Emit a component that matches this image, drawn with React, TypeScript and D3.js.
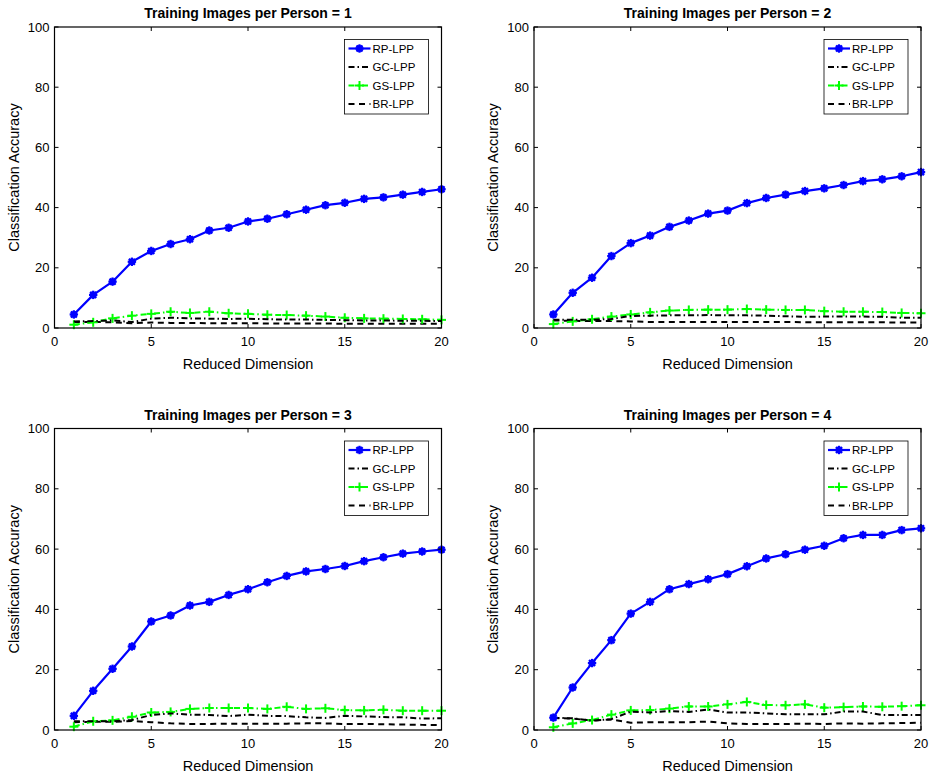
import React from 'react';
import * as d3 from 'd3';

// reduced dimension 1..20
const dims = [1, 2, 3, 4, 5, 6, 7, 8, 9, 10, 11, 12, 13, 14, 15, 16, 17, 18, 19, 20];
const xTicks = [0, 5, 10, 15, 20];
const yTicks = [0, 20, 40, 60, 80, 100];
const titles = [
  'Training Images per Person = 1',
  'Training Images per Person = 2',
  'Training Images per Person = 3',
  'Training Images per Person = 4',
];
const seriesNames = ['RP-LPP', 'GC-LPP', 'GS-LPP', 'BR-LPP'];

const rp1 = [4.5, 11.0, 15.4, 22.0, 25.6, 27.9, 29.5, 32.4, 33.3, 35.4, 36.3, 37.8, 39.3, 40.8, 41.6, 42.9, 43.4, 44.3, 45.2, 46.1];
const gc1 = [2.2, 2.3, 2.5, 2.0, 3.1, 3.4, 3.2, 3.1, 3.0, 3.1, 2.9, 2.8, 2.8, 2.7, 2.6, 2.5, 2.5, 2.4, 2.4, 2.3];
const gs1 = [1.1, 1.9, 3.2, 4.1, 4.7, 5.4, 5.0, 5.4, 4.9, 4.7, 4.4, 4.3, 4.1, 3.8, 3.4, 3.2, 3.1, 3.0, 2.9, 2.7];
const br1 = [2.0, 2.0, 1.9, 1.6, 1.8, 1.7, 1.7, 1.6, 1.6, 1.6, 1.5, 1.5, 1.5, 1.5, 1.4, 1.4, 1.4, 1.4, 1.4, 1.4];

const rp2 = [4.5, 11.7, 16.7, 23.9, 28.2, 30.7, 33.6, 35.7, 38.0, 39.0, 41.5, 43.2, 44.3, 45.5, 46.4, 47.5, 48.8, 49.4, 50.4, 51.8];
const gc2 = [2.7, 2.7, 2.7, 3.0, 4.0, 4.1, 4.2, 4.2, 4.3, 4.2, 4.2, 4.1, 3.9, 3.7, 3.8, 3.8, 3.8, 3.7, 3.4, 3.4];
const gs2 = [1.3, 2.2, 2.9, 3.8, 4.5, 5.2, 5.8, 6.0, 6.1, 6.1, 6.3, 6.1, 6.0, 6.0, 5.6, 5.4, 5.4, 5.3, 5.0, 4.9];
const br2 = [2.5, 2.4, 2.3, 2.3, 2.2, 2.0, 2.0, 2.0, 2.0, 2.0, 2.0, 2.0, 2.0, 1.9, 1.9, 1.9, 1.9, 1.9, 1.8, 1.8];

const rp3 = [4.7, 13.0, 20.3, 27.7, 36.0, 38.0, 41.3, 42.5, 44.8, 46.7, 49.0, 51.1, 52.6, 53.4, 54.4, 56.0, 57.3, 58.5, 59.2, 59.8];
const gc3 = [2.9, 2.9, 2.9, 3.3, 5.0, 5.5, 5.1, 5.0, 4.6, 5.1, 4.7, 4.6, 4.2, 4.0, 4.7, 4.5, 4.3, 4.2, 3.8, 3.9];
const gs3 = [1.1, 2.9, 3.2, 4.4, 5.8, 6.0, 7.0, 7.3, 7.3, 7.3, 7.0, 7.7, 7.0, 7.2, 6.6, 6.5, 6.7, 6.4, 6.4, 6.4];
const br3 = [2.6, 2.7, 2.7, 3.0, 2.6, 2.2, 2.0, 2.0, 2.1, 2.1, 2.1, 2.1, 2.2, 2.2, 2.0, 2.0, 1.9, 1.8, 1.7, 1.7];

const rp4 = [4.1, 14.1, 22.2, 29.8, 38.6, 42.5, 46.7, 48.4, 50.0, 51.7, 54.3, 56.9, 58.3, 59.8, 61.1, 63.6, 64.7, 64.7, 66.3, 66.9];
const gc4 = [4.0, 3.9, 3.1, 3.6, 6.1, 5.8, 6.3, 6.0, 6.8, 5.8, 5.8, 5.5, 5.2, 5.2, 5.2, 6.1, 6.1, 5.0, 5.0, 5.0];
const gs4 = [0.9, 2.2, 3.3, 5.1, 6.5, 6.6, 7.1, 7.8, 7.8, 8.5, 9.3, 8.3, 8.2, 8.5, 7.4, 7.6, 7.8, 7.7, 7.9, 8.2];
const br4 = [4.0, 3.8, 3.1, 3.5, 2.4, 2.6, 2.6, 2.6, 2.8, 2.2, 2.0, 2.0, 2.0, 2.1, 2.0, 2.2, 2.1, 2.2, 2.3, 2.4];

const panelData = [
  [rp1, gc1, gs1, br1],
  [rp2, gc2, gs2, br2],
  [rp3, gc3, gs3, br3],
  [rp4, gc4, gs4, br4],
];

const FONT = '"Liberation Sans", Arial, Helvetica, sans-serif';
const W = 934;
const H = 778;

// per-series look: colour, width, dash, marker
const styles = [
  { color: '#0000ff', width: 2.2, dash: null, marker: 'star' },
  { color: '#000000', width: 2, dash: '6,3,1.5,3', marker: null },
  { color: '#00ff00', width: 2, dash: '6,3,1.5,3', marker: 'plus' },
  { color: '#000000', width: 2, dash: '6,4.5', marker: null },
];

const Marker = ({ kind, x, y, color }: { kind: string | null; x: number; y: number; color: string }) => {
  if (kind === 'star') {
    const r = 4.2;
    const d = r * 0.72;
    return (
      <g stroke={color} strokeWidth={2.2}>
        <circle cx={x} cy={y} r={3.4} fill={color} stroke="none" />
        <line x1={x - r} y1={y} x2={x + r} y2={y} />
        <line x1={x} y1={y - r} x2={x} y2={y + r} />
        <line x1={x - d} y1={y - d} x2={x + d} y2={y + d} />
        <line x1={x - d} y1={y + d} x2={x + d} y2={y - d} />
      </g>
    );
  }
  if (kind === 'plus') {
    const r = 4.5;
    return (
      <g stroke={color} strokeWidth={2}>
        <line x1={x - r} y1={y} x2={x + r} y2={y} />
        <line x1={x} y1={y - r} x2={x} y2={y + r} />
      </g>
    );
  }
  return null;
};

const Panel = ({ left, top, right, bottom, title, series }: any) => {
  const x = d3.scaleLinear().domain([0, 20]).range([left, right]);
  const y = d3.scaleLinear().domain([0, 100]).range([bottom, top]);
  const line = d3
    .line<number>()
    .x((_, i) => x(dims[i]))
    .y((d) => y(d));
  const tk = 4;
  const legW = 84;
  const legL = right - 13 - legW;
  const legT = top + 12.5;
  const rowH = 18.5;

  return (
    <g>
      <text
        x={(left + right) / 2}
        y={top - 9}
        textAnchor="middle"
        fontWeight="bold"
        fontSize={14}
        fontFamily={FONT}
      >
        {title}
      </text>
      {/* draw order: BR, GS, GC then RP on top */}
      {[3, 2, 1, 0].map((s) => (
        <g key={s}>
          <path
            d={line(series[s]) || ''}
            fill="none"
            stroke={styles[s].color}
            strokeWidth={styles[s].width}
            strokeDasharray={styles[s].dash || undefined}
            strokeLinejoin="round"
          />
          {series[s].map((v: number, i: number) => (
            <Marker key={i} kind={styles[s].marker} x={x(dims[i])} y={y(v)} color={styles[s].color} />
          ))}
        </g>
      ))}
      <rect x={left} y={top} width={right - left} height={bottom - top} fill="none" stroke="#000" strokeWidth={1.2} />
      {xTicks.map((t) => (
        <g key={'x' + t}>
          <line x1={x(t)} x2={x(t)} y1={bottom} y2={bottom - tk} stroke="#000" />
          <line x1={x(t)} x2={x(t)} y1={top} y2={top + tk} stroke="#000" />
          <text x={x(t)} y={bottom + 18} textAnchor="middle" fontSize={13} fontFamily={FONT}>
            {t}
          </text>
        </g>
      ))}
      {yTicks.map((t) => (
        <g key={'y' + t}>
          <line x1={left} x2={left + tk} y1={y(t)} y2={y(t)} stroke="#000" />
          <line x1={right} x2={right - tk} y1={y(t)} y2={y(t)} stroke="#000" />
          <text x={left - 5} y={y(t) + 4.5} textAnchor="end" fontSize={13} fontFamily={FONT}>
            {t}
          </text>
        </g>
      ))}
      <text
        x={(left + right) / 2}
        y={bottom + 41}
        textAnchor="middle"
        fontSize={14.5}
        fontFamily={FONT}
      >
        Reduced Dimension
      </text>
      <text
        transform={`translate(${left - 36},${(top + bottom) / 2}) rotate(-90)`}
        textAnchor="middle"
        fontSize={14.5}
        fontFamily={FONT}
      >
        Classification Accuracy
      </text>
      <g>
        <rect x={legL} y={legT} width={legW} height={rowH * 4 + 0.5} fill="#fff" stroke="#000" strokeWidth={0.8} />
        {seriesNames.map((n, s) => {
          const cy = legT + 9 + s * rowH;
          const lx1 = legL + 4;
          const lx2 = legL + 26;
          return (
            <g key={n}>
              <line
                x1={lx1}
                x2={lx2}
                y1={cy}
                y2={cy}
                stroke={styles[s].color}
                strokeWidth={styles[s].width}
                strokeDasharray={styles[s].dash || undefined}
              />
              <Marker kind={styles[s].marker} x={(lx1 + lx2) / 2} y={cy} color={styles[s].color} />
              <text x={legL + 28} y={cy + 4} fontSize={11.5} fontFamily={FONT}>
                {n}
              </text>
            </g>
          );
        })}
      </g>
    </g>
  );
};

const boxes = [
  { left: 54.5, right: 441.5, top: 27, bottom: 328 },
  { left: 534, right: 921, top: 27, bottom: 328 },
  { left: 54.5, right: 441.5, top: 428.5, bottom: 730 },
  { left: 534, right: 921, top: 428.5, bottom: 730 },
];

export default function App() {
  return (
    <svg
      width={W}
      height={H}
      style={{ position: 'absolute', left: 0, top: 0, background: '#fff' }}
    >
      <rect width={W} height={H} fill="#fff" />
      {boxes.map((b, i) => (
        <Panel key={i} {...b} title={titles[i]} series={panelData[i]} />
      ))}
    </svg>
  );
}
